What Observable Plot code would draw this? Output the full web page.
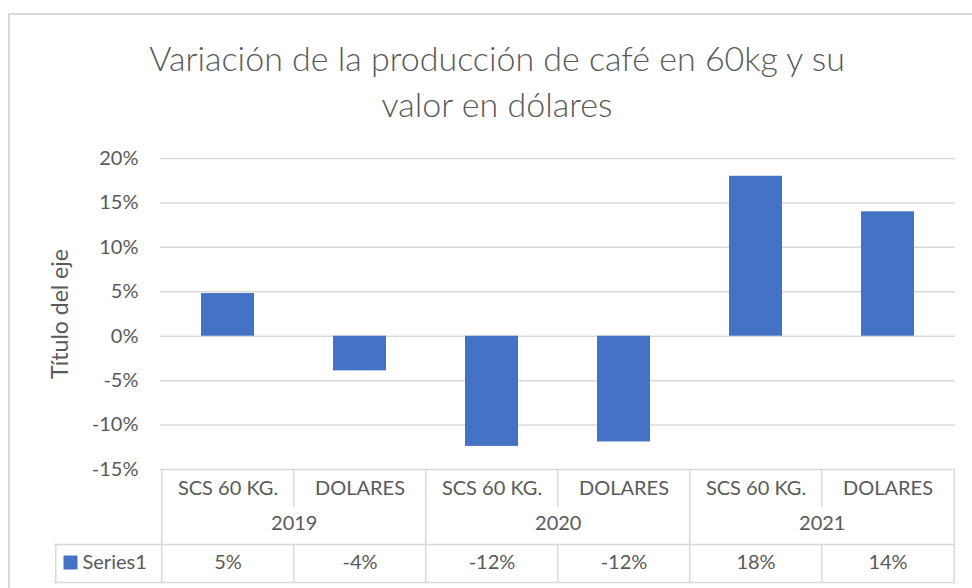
<!DOCTYPE html>
<html><head><meta charset="utf-8">
<script src="https://cdn.jsdelivr.net/npm/d3@7"></script>
<script src="https://cdn.jsdelivr.net/npm/@observablehq/plot@0.6"></script>
<style>
body{margin:0;width:972px;height:588px;overflow:hidden;background:#fff;font-family:Lato,sans-serif;position:relative}
#frame{position:absolute;left:8px;top:13px;width:1000px;height:640px;border:2px solid #d9d9d9;box-sizing:border-box}
#title{position:absolute;left:0;top:35px;width:994px;text-align:center;font-size:34px;line-height:46px;color:#595959;font-weight:300}
#chart{position:absolute;left:0;top:140px}
</style></head><body>
<div id="frame"></div>
<div id="title">Variación de la producción de café en 60kg y su<br>valor en dólares</div>
<div id="chart"></div>
<script>
// ---- data ----
const years = ["2019", "2020", "2021"];
const subcats = ["SCS 60 KG.", "DOLARES"];
const values = [0.048, -0.039, -0.124, -0.119, 0.18, 0.14];
const yTicks = [-0.15, -0.10, -0.05, 0, 0.05, 0.10, 0.15, 0.20];
const seriesName = ["Series1"];
const axisTitle = "Título del eje";

const fmt = d => Math.round(d * 100) + "%";
const rows = years.flatMap((y, i) => subcats.map((s, j) => ({
  key: y + "|" + s, year: y, sub: s, value: values[i * 2 + j], label: fmt(values[i * 2 + j]), first: j === 0
})));
const keys = rows.map(d => d.key);
const yearRows = rows.filter(d => d.first);
const subRows = rows.filter(d => !d.first);

// ---- layout ----
const W = 972, H = 448, mt = 18, mb = 119, ml = 160, mr = 17;
const step = (W - ml - mr) / keys.length;
const yDom = [-0.15, 0.20];
const py = dy => yDom[0] - dy * (yDom[1] - yDom[0]) / (H - mt - mb);
const grid = "#d9d9d9", txt = "#595959", blue = "#4472C4";
const legendLeft = 54;
const fs = 20;

const chart = Plot.plot({
  width: W, height: H,
  marginTop: mt, marginBottom: mb, marginLeft: ml, marginRight: mr,
  style: {fontFamily: "Lato, sans-serif", fontSize: fs + "px", color: txt, background: "transparent", overflow: "visible"},
  x: {type: "band", domain: keys, paddingInner: 0.6, paddingOuter: 0.3, axis: null},
  y: {domain: yDom, ticks: yTicks, tickFormat: fmt, tickSize: 0, tickPadding: 22, label: null},
  marks: [
    Plot.ruleY(yTicks, {stroke: grid, strokeWidth: 1.5}),
    Plot.barY(rows, {x: "key", y: "value", fill: blue}),
    // table: vertical lines
    Plot.ruleX(yearRows, {x: "key", dx: -step / 2, y1: py(0), y2: py(113), stroke: grid, strokeWidth: 1.5}),
    Plot.ruleX(subRows, {x: "key", dx: -step / 2, y1: py(0), y2: py(38), stroke: grid, strokeWidth: 1.5}),
    Plot.ruleX(subRows, {x: "key", dx: -step / 2, y1: py(75), y2: py(113), stroke: grid, strokeWidth: 1.5}),
    Plot.ruleX([keys[keys.length - 1]], {x: d => d, dx: step / 2, y1: py(0), y2: py(113), stroke: grid, strokeWidth: 1.5}),
    Plot.ruleX([keys[0]], {x: d => d, dx: -step / 2 - (ml - legendLeft), y1: py(75), y2: py(113), stroke: grid, strokeWidth: 1.5}),
    // table: horizontal lines
    Plot.ruleY([py(75), py(113)], {insetLeft: -(ml - legendLeft), stroke: grid, strokeWidth: 1.5}),
    // table texts
    Plot.text(rows, {x: "key", y: py(19), text: "sub", fill: txt, fontSize: fs}),
    Plot.text(yearRows, {x: "key", dx: step / 2, y: py(54), text: "year", fill: txt, fontSize: fs}),
    Plot.text(rows, {x: "key", y: py(93), text: "label", fill: txt, fontSize: fs}),
    // legend
    Plot.dot(seriesName, {frameAnchor: "bottom-left", dx: 70 - ml, dy: 93, symbol: "square", r: 7.9, fill: blue, stroke: null}),
    Plot.text(seriesName, {frameAnchor: "bottom-left", dx: 82 - ml, dy: 93, text: d => d, textAnchor: "start", lineAnchor: "middle", fill: txt, fontSize: fs}),
    // axis title
    Plot.text([axisTitle], {frameAnchor: "left", dx: -100, rotate: -90, text: d => d, textAnchor: "middle", lineAnchor: "middle", fill: txt, fontSize: 23})
  ]
});
document.getElementById("chart").appendChild(chart);
</script>
</body></html>
